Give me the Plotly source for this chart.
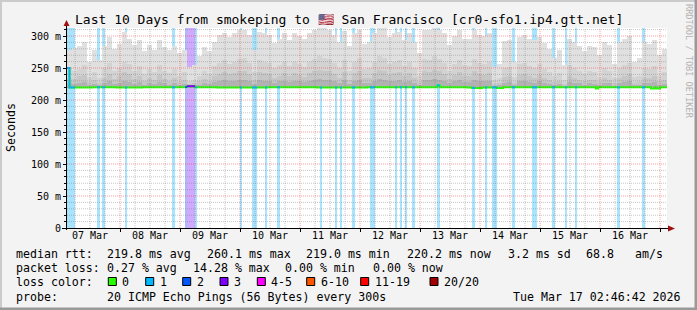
import pandas as pd
import plotly.graph_objects as go

# ---------------- data ----------------
START = pd.Timestamp("2026-03-07 02:46:42")
END = pd.Timestamp("2026-03-17 02:46:42")
BIN_H = 2            # hours per smoke column
Y_TOP = 312.5        # ms, top of the y axis
smoke_floor_ms = 219.0

smoke_max_ms = [
    278, 281, 285, 290, 260, 278, 262, 285, 298, 280,
    287, 306, 296, 286, 293, 276, 286, 278, 293, 283,
    278, 285, 273, 278, 252, 255, 268, 283, 276, 291,
    302, 304, 299, 304, 309, 310, 302, 278, 307, 304,
    302, 289, 296, 304, 294, 304, 300, 295,
    304, 310, 314, 314, 310, 302, 290, 308, 285, 305,
    310, 288, 290, 305, 314, 314, 299, 305, 306, 294,
    304, 290, 273, 309, 309, 314, 310, 304, 286, 300,
    309, 296, 296, 310, 302, 300, 304, 252, 257, 292,
    294, 260, 299, 301, 296, 293, 299, 289,
    280, 265, 278, 255, 296, 290, 285, 276, 285, 283,
    270, 290, 286, 257, 291, 295, 300, 260, 265, 290,
    288, 293, 270, 280]

smoke_p90_ms = [
    250, 246, 248, 254, 236, 243, 234, 250, 258, 245,
    250, 260, 256, 246, 253, 240, 248, 243, 254, 246,
    242, 248, 238, 243, 230, 232, 238, 246, 240, 253,
    258, 262, 256, 260, 264, 266, 258, 244, 263, 260,
    258, 250, 254, 260, 253, 260, 256, 252,
    260, 264, 268, 266, 264, 258, 250, 263, 246, 260,
    266, 248, 250, 260, 268, 266, 256, 260, 262, 253,
    260, 250, 238, 264, 263, 268, 264, 258, 246, 256,
    263, 254, 253, 264, 258, 256, 260, 232, 234, 250,
    252, 236, 256, 258, 253, 250, 256, 248,
    243, 238, 242, 232, 254, 250, 246, 240, 246, 244,
    236, 250, 246, 234, 250, 254, 258, 236, 238, 250,
    248, 253, 238, 243]

smoke_p75_ms = [
    235, 233, 237, 239, 228, 231, 226, 235, 241, 233,
    237, 243, 240, 233, 238, 229, 235, 231, 239, 233,
    230, 235, 228, 231, 225, 226, 229, 233, 230, 237,
    241, 243, 240, 242, 245, 246, 241, 231, 244, 242,
    241, 235, 238, 242, 237, 242, 239, 236,
    242, 245, 247, 246, 245, 241, 235, 244, 232, 242,
    246, 234, 235, 242, 247, 246, 239, 242, 243, 237,
    242, 235, 228, 245, 244, 247, 245, 241, 233, 239,
    244, 238, 237, 245, 241, 239, 242, 225, 226, 236,
    237, 227, 239, 240, 237, 235, 239, 234,
    231, 228, 230, 225, 238, 235, 232, 229, 232, 231,
    228, 235, 232, 226, 235, 237, 240, 227, 228, 235,
    234, 237, 229, 231]

smoke_p60_ms = [
    226, 225, 227, 228, 223, 225, 223, 226, 229, 225,
    227, 230, 228, 225, 228, 224, 226, 225, 228, 226,
    224, 226, 223, 225, 222, 223, 224, 226, 225, 228,
    230, 231, 229, 230, 232, 232, 230, 225, 231, 230,
    230, 227, 229, 230, 228, 230, 229, 228,
    230, 232, 233, 232, 232, 230, 227, 232, 225, 230,
    232, 226, 227, 230, 233, 232, 229, 230, 231, 228,
    230, 227, 224, 232, 231, 233, 232, 230, 226, 229,
    231, 228, 228, 232, 230, 229, 230, 222, 223, 227,
    228, 223, 229, 230, 228, 227, 229, 227,
    225, 223, 225, 222, 228, 227, 226, 224, 226, 225,
    223, 227, 226, 222, 227, 228, 229, 223, 223, 227,
    226, 228, 224, 225]

# median rtt as a step function: change points (hours after START) and values (ms)
median_hours = [0, 1, 10, 20, 30, 47.2, 48, 51.2, 60, 80, 100, 120, 148, 149.2,
                160, 162, 166, 172, 174.4, 211.6, 212.4, 233.6, 235.2, 235.6, 237.2]
median_ms = [250.0, 219.7, 219.9, 219.6, 219.8, 220.4, 221.6, 219.8, 219.6, 219.9,
             219.7, 219.8, 222.8, 219.8, 219.7, 218.9, 219.7, 218.8, 219.8, 218.0,
             219.8, 217.8, 219.8, 217.8, 219.8]

# packet-loss periods (hours after START) and loss class
loss_start_h = [0, 12, 14, 23.2, 42, 47.2, 48, 51.2, 69.2, 74, 79.2, 84, 101.2, 107.2,
                109.2, 114, 121.2, 131.2, 133.2, 135.2, 138, 148, 162, 167.2, 170, 178,
                186, 194, 199.2, 203.2, 220, 230]
loss_end_h = [3.2, 13.2, 15.2, 24, 43.2, 48, 51.2, 52, 70, 76, 80, 85.2, 102, 108,
              110, 115.2, 123.2, 132, 134, 136, 139.2, 149.2, 163.2, 168, 172, 179.2,
              188, 195.2, 200, 204, 221.2, 231.2]
loss_class = [1, 1, 1, 1, 1, 2, 3, 1, 1, 1, 1, 1, 1, 1,
              1, 1, 1, 1, 1, 1, 1, 1, 1, 1, 1, 1,
              1, 1, 1, 1, 1, 1]

day_labels = ["07 Mar", "08 Mar", "09 Mar", "10 Mar", "11 Mar",
              "12 Mar", "13 Mar", "14 Mar", "15 Mar", "16 Mar"]
y_tick_vals = [0, 50, 100, 150, 200, 250, 300]
y_tick_text = ["0", "50 m", "100 m", "150 m", "200 m", "250 m", "300 m"]

title_text = "Last 10 Days from smokeping to 🇺🇸 San Francisco [cr0-sfo1.ip4.gtt.net]"
rtt_stats = ["219.8 ms avg", "260.1 ms max", "219.0 ms min", "220.2 ms now", "3.2 ms sd", "68.8", "am/s"]
loss_stats = ["0.27 % avg", "14.28 % max", "0.00 % min", "0.00 % now"]
loss_legend_labels = ["0", "1", "2", "3", "4-5", "6-10", "11-19", "20/20"]
loss_legend_colors = ["#26ff00", "#00b8ff", "#0059ff", "#7e00ff", "#ff00ff", "#ff5500", "#ff0000", "#a10000"]
probe_text = "20 ICMP Echo Pings (56 Bytes) every 300s"
stamp_text = "Tue Mar 17 02:46:42 2026"

# ---------------- styles ----------------
LINE_COL = {0: "#26ff00", 1: "#00b8ff", 2: "#0059ff", 3: "#7e00ff"}
BG_COL = {1: "#a8e4fe", 2: "#aab8fc", 3: "#d0aaff"}
SMOKE_COLS = ["#e0e0e0", "#d3d3d3", "#c6c6c6", "#b2b2b2"]
MONO = "DejaVu Sans Mono"

L, R, T, B = 67, 30, 28, 82
W, H = 697, 310
PW, PH = W - L - R, H - T - B


def pxx(x):
    return (x - L) / PW


def pxy(y):
    return (H - B - y) / PH


def hrs(h):
    return START + pd.Timedelta(hours=h)


fig = go.Figure()

# loss background stripes
for cls in sorted(set(loss_class)):
    xs, ws = [], []
    for s, e, c in zip(loss_start_h, loss_end_h, loss_class):
        if c == cls:
            xs.append(hrs((s + e) / 2))
            ws.append((e - s) * 3600 * 1000)
    fig.add_trace(go.Bar(x=xs, y=[Y_TOP] * len(xs), base=0, width=ws,
                         marker=dict(color=BG_COL[cls], line=dict(width=0)),
                         hoverinfo="skip"))

# smoke
bin_x = [hrs(BIN_H * (k + 0.5)) for k in range(len(smoke_max_ms))]
bin_w = BIN_H * 3600 * 1000
for series, col in zip([smoke_max_ms, smoke_p90_ms, smoke_p75_ms, smoke_p60_ms], SMOKE_COLS):
    fig.add_trace(go.Bar(x=bin_x, y=[v - smoke_floor_ms for v in series], base=smoke_floor_ms,
                         width=bin_w, marker=dict(color=col, line=dict(width=0)),
                         hoverinfo="skip"))

# median line (green = no loss)
mx = [hrs(h) for h in median_hours] + [END]
my = median_ms + [median_ms[-1]]
fig.add_trace(go.Scatter(x=mx, y=my, mode="lines", line=dict(color=LINE_COL[0], width=2, shape="hv"),
                         hoverinfo="skip"))


def median_at(h):
    v = median_ms[0]
    for hh, mv in zip(median_hours, median_ms):
        if hh <= h + 1e-9:
            v = mv
    return v


# loss-coloured median segments
for cls in sorted(set(loss_class)):
    xs, ys = [], []
    for s, e, c in zip(loss_start_h, loss_end_h, loss_class):
        if c != cls:
            continue
        pts = [s] + [h for h in median_hours if s < h < e] + [e]
        for a in pts[:-1]:
            xs.append(hrs(a))
            ys.append(median_at(a))
        xs.append(hrs(e))
        ys.append(median_at(pts[-2]))
        xs.append(None)
        ys.append(None)
    fig.add_trace(go.Scatter(x=xs, y=ys, mode="lines", line=dict(color=LINE_COL[cls], width=2, shape="hv"),
                             hoverinfo="skip", connectgaps=False))

shapes = []
# grid (drawn over the graph, like rrdtool)
t = pd.Timestamp("2026-03-07 06:00:00")
while t < END:
    major = t.hour == 0
    shapes.append(dict(type="line", xref="x", yref="paper", x0=t, x1=t, y0=0, y1=1, layer="above",
                       line=dict(color="rgba(255,0,0,0.38)" if major else "rgba(120,120,120,0.42)",
                                 width=1, dash="1px,1px")))
    t += pd.Timedelta(hours=6)
for v in range(10, 311, 10):
    major = v % 50 == 0
    shapes.append(dict(type="line", xref="paper", yref="y", x0=0, x1=1, y0=v, y1=v, layer="above",
                       line=dict(color="rgba(255,0,0,0.38)" if major else "rgba(120,120,120,0.42)",
                                 width=1, dash="1px,1px")))

# axes lines and arrows
shapes.append(dict(type="line", xref="paper", yref="paper", x0=pxx(66.5), x1=pxx(66.5),
                   y0=pxy(230), y1=pxy(25), line=dict(color="black", width=1), layer="above"))
shapes.append(dict(type="line", xref="paper", yref="paper", x0=pxx(62), x1=pxx(669),
                   y0=pxy(228.5), y1=pxy(228.5), line=dict(color="black", width=1), layer="above"))
shapes.append(dict(type="path", xref="paper", yref="paper", layer="above",
                   path=f"M {pxx(63.5)} {pxy(26)} L {pxx(69.5)} {pxy(26)} L {pxx(66.5)} {pxy(20)} Z",
                   fillcolor="#a01010", line=dict(width=0)))
shapes.append(dict(type="path", xref="paper", yref="paper", layer="above",
                   path=f"M {pxx(668)} {pxy(225.5)} L {pxx(668)} {pxy(231.5)} L {pxx(675)} {pxy(228.5)} Z",
                   fillcolor="#a01010", line=dict(width=0)))

# outer 3D frame
shapes.append(dict(type="rect", xref="paper", yref="paper", x0=pxx(0), x1=pxx(2), y0=pxy(310), y1=pxy(0),
                   fillcolor="#cbcbcb", line=dict(width=0), layer="above"))
shapes.append(dict(type="rect", xref="paper", yref="paper", x0=pxx(0), x1=pxx(697), y0=pxy(2), y1=pxy(0),
                   fillcolor="#cbcbcb", line=dict(width=0), layer="above"))
shapes.append(dict(type="rect", xref="paper", yref="paper", x0=pxx(694.5), x1=pxx(697), y0=pxy(310), y1=pxy(0),
                   fillcolor="#999999", line=dict(width=0), layer="above"))
shapes.append(dict(type="rect", xref="paper", yref="paper", x0=pxx(0), x1=pxx(697), y0=pxy(310), y1=pxy(307.5),
                   fillcolor="#999999", line=dict(width=0), layer="above"))

# legend colour boxes
box_x = [108.3, 145.7, 182.7, 220, 257.3, 306.7, 360.7, 430]
for bx, col in zip(box_x, loss_legend_colors):
    shapes.append(dict(type="rect", xref="paper", yref="paper", x0=pxx(bx), x1=pxx(bx + 8),
                       y0=pxy(285.5), y1=pxy(277.5), fillcolor=col, line=dict(color="black", width=1)))

annotations = []


def ann(x, y, text, size=11.6, xanchor="left", color="black", angle=0):
    annotations.append(dict(x=pxx(x), y=pxy(y), xref="paper", yref="paper", text=text, showarrow=False,
                            xanchor=xanchor, yanchor="middle", textangle=angle, borderpad=0, borderwidth=0,
                            font=dict(family=MONO, size=size, color=color)))


ann(348.5, 19, title_text, size=13, xanchor="center")
ann(10.5, 127.5, "Seconds", size=11.6, xanchor="center", angle=-90)
ann(689, 61, "RRDTOOL / TOBI OETIKER", size=8.6, xanchor="center", color="#b4b4b4", angle=90)

ann(16, 254, "median rtt:")
for x, s in zip([107.3, 207.3, 306, 407.3, 507.7, 586, 635], rtt_stats):
    ann(x, 254, s)
ann(16, 268.3, "packet loss:")
for x, s in zip([107.3, 192.7, 284.5, 373], loss_stats):
    ann(x, 268.3, s)
ann(16, 281.7, "loss color:")
for bx, s in zip(box_x, loss_legend_labels):
    ann(bx + 14, 281.7, s)
ann(16, 296.7, "probe:")
ann(107.3, 296.7, probe_text)
ann(513.3, 296.7, stamp_text)

noons = [pd.Timestamp("2026-03-07 12:00:00") + pd.Timedelta(days=i) for i in range(len(day_labels))]
midnights = [pd.Timestamp("2026-03-08") + pd.Timedelta(days=i) for i in range(10)]

fig.update_layout(
    width=W, height=H, margin=dict(l=L, r=R, t=T, b=B, pad=0),
    paper_bgcolor="#f3f3f3", plot_bgcolor="white", showlegend=False,
    barmode="overlay", bargap=0, shapes=shapes, annotations=annotations,
    xaxis=dict(type="date", range=[START, END], tickmode="array", tickvals=noons, ticktext=day_labels,
               ticks="", showgrid=False, zeroline=False, showline=False,
               tickfont=dict(family=MONO, size=10, color="black"),
               minor=dict(tickvals=midnights, ticks="outside", ticklen=3, tickcolor="black", showgrid=False),
               fixedrange=True),
    yaxis=dict(range=[0, Y_TOP], tickmode="array", tickvals=y_tick_vals, ticktext=y_tick_text,
               ticks="outside", ticklen=3, tickcolor="black", showgrid=False, zeroline=False, showline=False,
               tickfont=dict(family=MONO, size=10, color="black"),
               minor=dict(tickvals=list(range(0, 311, 10)), ticks="outside", ticklen=2, tickcolor="black",
                          showgrid=False),
               fixedrange=True),
)

fig.write_html("out.html")
